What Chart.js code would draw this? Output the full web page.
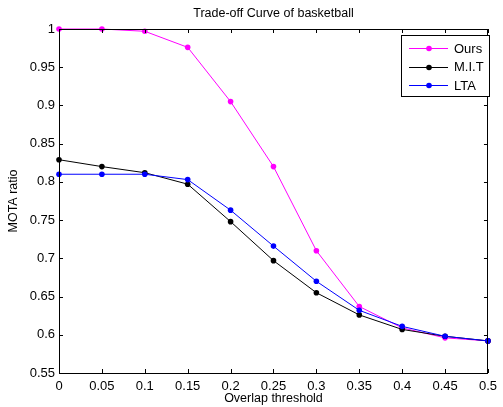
<!DOCTYPE html>
<html><head><meta charset="utf-8">
<script src="https://cdn.jsdelivr.net/npm/chart.js@4"></script>
<style>html,body{margin:0;padding:0;background:#fff}#wrap{width:503px;height:407px;position:relative}</style>
</head><body><div id="wrap"><canvas id="c" width="503" height="407"></canvas></div>
<script>
const chartTitle = 'Trade-off Curve of basketball';
const xTitle = 'Overlap threshold';
const yTitle = 'MOTA ratio';
const thresholds = [0, 0.05, 0.1, 0.15, 0.2, 0.25, 0.3, 0.35, 0.4, 0.45, 0.5];
const xTickLabels = ['0','0.05','0.1','0.15','0.2','0.25','0.3','0.35','0.4','0.45','0.5'];
const yTickLabels = ['0.55','0.6','0.65','0.7','0.75','0.8','0.85','0.9','0.95','1'];
const seriesNames = ['Ours', 'M.I.T', 'LTA'];
const ours = [1.0, 1.0, 0.997, 0.976, 0.905, 0.820, 0.710, 0.637, 0.609, 0.596, 0.592];
const mit  = [0.829, 0.820, 0.812, 0.797, 0.748, 0.697, 0.655, 0.626, 0.607, 0.598, 0.592];
const lta  = [0.810, 0.810, 0.810, 0.803, 0.763, 0.716, 0.670, 0.632, 0.611, 0.598, 0.592];
const colors = ['#ff00ff', '#000000', '#0000ff'];

const FONT = '"Liberation Sans", Arial, sans-serif';
const toPts = ys => ys.map((y, i) => ({x: thresholds[i], y}));

const framePlugin = {
  id: 'frame',
  afterDraw(chart) {
    const ctx = chart.ctx, a = chart.chartArea;
    const xs = chart.scales.x, ys = chart.scales.y;
    ctx.save();
    ctx.strokeStyle = '#000'; ctx.lineWidth = 1;
    ctx.strokeRect(Math.round(a.left) + 0.5, Math.round(a.top) + 0.5, Math.round(a.right - a.left) - 1, Math.round(a.bottom - a.top));
    const L = 4;
    ctx.beginPath();
    xs.ticks.forEach(t => {
      const px = Math.round(xs.getPixelForValue(t.value)) + 0.5;
      ctx.moveTo(px, a.bottom); ctx.lineTo(px, a.bottom - L);
      ctx.moveTo(px, a.top); ctx.lineTo(px, a.top + L);
    });
    ys.ticks.forEach(t => {
      const py = Math.round(ys.getPixelForValue(t.value)) + 0.5;
      ctx.moveTo(a.left, py); ctx.lineTo(a.left + L, py);
      ctx.moveTo(a.right, py); ctx.lineTo(a.right - L, py);
    });
    ctx.stroke();
    // title
    ctx.fillStyle = '#000';
    ctx.font = '12.5px ' + FONT;
    ctx.textAlign = 'center'; ctx.textBaseline = 'middle';
    ctx.fillText(chartTitle, (a.left + a.right) / 2, 14);
    // legend
    const bx = 401.5, by = 35.5, bw = 88, bh = 61;
    ctx.fillStyle = '#fff';
    ctx.fillRect(bx, by, bw, bh);
    ctx.strokeRect(bx, by, bw, bh);
    ctx.font = '13px ' + FONT;
    ctx.textAlign = 'left';
    const dsList = chart.data.datasets.slice().reverse();
    dsList.forEach((ds, i) => {
      const y = 48 + i * 18.7;
      ctx.strokeStyle = ds.borderColor; ctx.lineWidth = 1;
      ctx.beginPath(); ctx.moveTo(409, Math.round(y) + 0.5); ctx.lineTo(448, Math.round(y) + 0.5); ctx.stroke();
      ctx.fillStyle = ds.borderColor;
      ctx.beginPath(); ctx.arc(429, Math.round(y) + 0.5, 2.8, 0, Math.PI * 2); ctx.fill();
      ctx.fillStyle = '#000';
      ctx.fillText(ds.label, 454, y + 1);
    });
    ctx.restore();
  }
};

new Chart(document.getElementById('c'), {
  type: 'line',
  data: {
    datasets: seriesNames.map((n, i) => ({
      label: n,
      data: toPts([ours, mit, lta][i]),
      borderColor: colors[i],
      backgroundColor: colors[i],
      borderWidth: 1,
      pointRadius: 2.8,
      pointHoverRadius: 2.8,
      pointBorderWidth: 0,
      tension: 0,
      fill: false,
      clip: false
    })).reverse()
  },
  options: {
    responsive: false,
    animation: false,
    events: [],
    layout: {padding: {left: 0, top: 29, right: 8, bottom: 0}},
    plugins: {legend: {display: false}, title: {display: false}, tooltip: {enabled: false}},
    scales: {
      x: {
        type: 'linear', min: 0, max: 0.5,
        afterFit(s) { s.height = 34; },
        grid: {display: false, drawTicks: false},
        border: {display: false},
        ticks: {stepSize: 0.05, padding: 6, color: '#000', font: {family: FONT, size: 13},
          maxRotation: 0, autoSkip: false, callback: (v, i) => xTickLabels[i]},
        title: {display: true, text: xTitle, color: '#000', font: {family: FONT, size: 12.5}, padding: {top: 0, bottom: 1}}
      },
      y: {
        type: 'linear', min: 0.55, max: 1,
        afterFit(s) { s.width = 59; },
        grid: {display: false, drawTicks: false},
        border: {display: false},
        ticks: {stepSize: 0.05, padding: 4, color: '#000', font: {family: FONT, size: 13},
          autoSkip: false, callback: (v, i) => yTickLabels[i]},
        title: {display: true, text: yTitle, color: '#000', font: {family: FONT, size: 12.5}, padding: {top: 6, bottom: 0}}
      }
    }
  },
  plugins: [framePlugin]
});
</script></body></html>
